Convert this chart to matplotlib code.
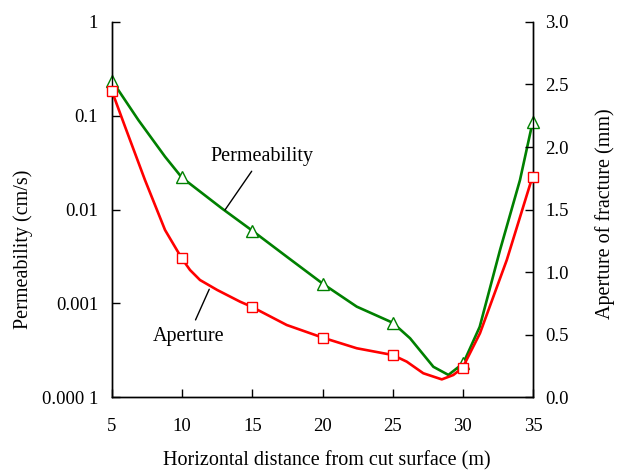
import matplotlib
matplotlib.use("Agg")
import matplotlib.pyplot as plt
from matplotlib.ticker import FixedLocator, FixedFormatter, MultipleLocator, FormatStrFormatter

plt.rcParams['font.family'] = ['Liberation Serif', 'DejaVu Serif']

# marker positions (every 5 m)
dist = [5, 10, 15, 20, 25, 30, 35]
perm_pts = [0.237, 0.022, 0.00594, 0.0016, 0.00062, 0.000229, 0.0865]
aper_pts = [2.446, 1.11, 0.722, 0.475, 0.336, 0.235, 1.762]

# curve readings (denser)
perm_x = [5, 6.88, 8.78, 9.97, 10.68, 12.82, 15, 17.45, 20.06, 22.44, 25,
          26.24, 27.9, 28.97, 30.03, 31.2, 32.65, 34.07, 34.98]
perm_y = [0.237, 0.090, 0.0366, 0.022, 0.0182, 0.0103, 0.00594, 0.00314, 0.0016,
          0.00092, 0.00062, 0.000423, 0.00021, 0.000172, 0.000229, 0.00056,
          0.0037, 0.0206, 0.0865]
aper_x = [5, 5.93, 7.35, 8.78, 9.97, 10.56, 11.27, 12.5, 14.12, 14.95, 17.45,
          20.01, 22.44, 25, 26, 27.18, 28.5, 29.32, 29.99, 31.22, 33.13, 34.96]
aper_y = [2.446, 2.163, 1.736, 1.336, 1.11, 1.016, 0.936, 0.856, 0.763, 0.722,
          0.576, 0.475, 0.39, 0.336, 0.283, 0.19, 0.141, 0.176, 0.235, 0.51,
          1.096, 1.762]

perm_ticks = [1e-4, 1e-3, 1e-2, 1e-1, 1]
perm_labels = ['0.000 1', '0.001', '0.01', '0.1', '1']

green = '#008000'
red = '#ff0000'

fig = plt.figure(figsize=(6.18, 4.70), dpi=100)
ax = fig.add_axes([0.1812, 0.1553, 0.6813, 0.7979])
ax2 = ax.twinx()

ax.plot(perm_x, perm_y, color=green, lw=1.9, zorder=2)
ax.plot(dist, perm_pts, ls='none', marker='^', ms=8, mfc='white', mec=green,
        mew=1.0, zorder=3, clip_on=False)
ax2.plot(aper_x, aper_y, color=red, lw=1.9, zorder=2)
ax2.plot(dist, aper_pts, ls='none', marker='s', ms=7.5, mfc='white', mec=red,
         mew=1.0, zorder=3, clip_on=False)

ax.set_yscale('log')
ax.set_ylim(1e-4, 1)
ax.set_xlim(5, 35)
ax2.set_ylim(0, 3)

ax.yaxis.set_major_locator(FixedLocator(perm_ticks))
ax.yaxis.set_major_formatter(FixedFormatter(perm_labels))
ax.yaxis.set_minor_locator(FixedLocator([]))
ax.xaxis.set_major_locator(MultipleLocator(5))
ax2.yaxis.set_major_locator(MultipleLocator(0.5))
ax2.yaxis.set_major_formatter(FormatStrFormatter('%.1f'))

for a in (ax, ax2):
    a.spines['top'].set_visible(False)
    for s in a.spines.values():
        s.set_linewidth(1.0)
ax.tick_params(axis='x', direction='in', length=6, width=1, pad=15, labelsize=13.5)
ax.tick_params(axis='y', direction='in', length=6, width=1, pad=10, labelsize=13.5)
ax2.tick_params(axis='y', direction='in', length=6, width=1, pad=9, labelsize=13.5)

ax.set_xlabel('Horizontal distance from cut surface (m)', fontsize=14.5)
ax.xaxis.set_label_coords(0.51, -0.145)
ax.set_ylabel('Permeability (cm/s)', fontsize=14.5)
ax.yaxis.set_label_coords(-0.188, 0.395)
ax2.set_ylabel('Aperture of fracture (mm)', fontsize=14.5, rotation=90)
ax2.yaxis.set_label_coords(1.147, 0.489)

ax.annotate('Permeability', xy=(13.05, 0.00988), xytext=(15.67, 0.0366),
            fontsize=14.5, ha='center', va='center',
            arrowprops=dict(arrowstyle='-', color='black', lw=1,
                            shrinkA=2, shrinkB=0))
ax2.annotate('Aperture', xy=(11.93, 0.862), xytext=(10.44, 0.488),
             fontsize=14.5, ha='center', va='center',
             arrowprops=dict(arrowstyle='-', color='black', lw=1,
                             shrinkA=3, shrinkB=0))

fig.savefig('out.png', dpi=100)
